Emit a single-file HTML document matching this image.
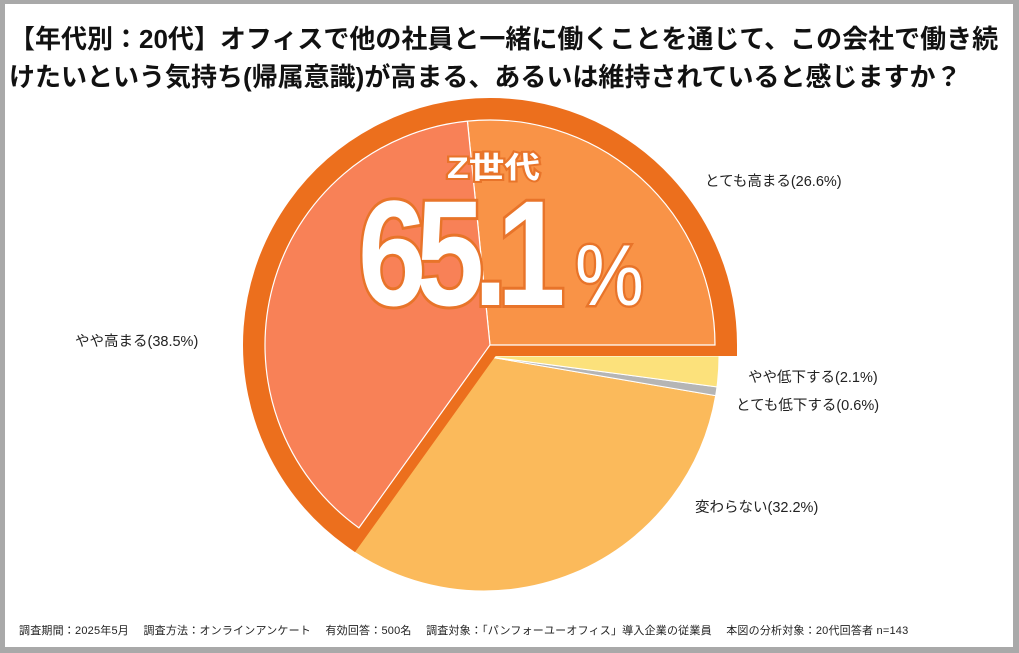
<!DOCTYPE html>
<html><head><meta charset="utf-8">
<style>
html,body{margin:0;padding:0;}
body{width:1019px;height:653px;overflow:hidden;background:#a9a9a9;font-family:"Liberation Sans","Noto Sans CJK JP",sans-serif;}
#frame{position:absolute;left:5px;top:4px;width:1008px;height:643px;background:#fff;}
.title{position:absolute;left:9px;font-weight:bold;font-size:26px;color:#111;white-space:nowrap;letter-spacing:0px;}
.foot{position:absolute;left:19px;top:622px;font-size:11px;color:#222;white-space:nowrap;letter-spacing:0.2px;}
svg{position:absolute;left:0;top:0;}
</style></head><body>
<div id="frame"></div>
<div class="title" style="top:19px">【年代別：20代】オフィスで他の社員と一緒に働くことを通じて、この会社で働き続</div>
<div class="title" style="top:57px">けたいという気持ち(帰属意識)が高まる、あるいは維持されていると感じますか？</div>
<svg id="chart" width="1019" height="653"></svg>
<div class="foot">調査期間：2025年5月　 調査方法：オンラインアンケート　 有効回答：500名　 調査対象：「パンフォーユーオフィス」導入企業の従業員　 本図の分析対象：20代回答者 n=143</div>
<script>
const categories = ["とても高まる","やや高まる","変わらない","とても低下する","やや低下する"];
const values = [26.6, 38.5, 32.2, 0.6, 2.1];
const highlighted = [true, true, false, false, false];
const colors = ["#F99347","#F88157","#FBBA5B","#B5B5B5","#FCE17B"];
const labelPos = [[705,186],[75,346],[695,512],[736,410],[748,382]];
const NS="http://www.w3.org/2000/svg";
const svg=document.getElementById('chart');
const total=values.reduce((a,b)=>a+b,0);
function pt(cx,cy,r,a){return [cx+r*Math.cos(a), cy-r*Math.sin(a)];}
function wedge(cx,cy,r,a0,a1){
  const p0=pt(cx,cy,r,a0),p1=pt(cx,cy,r,a1);
  const large=(a1-a0)>Math.PI?1:0;
  return `M${cx},${cy} L${p0[0]},${p0[1]} A${r},${r} 0 ${large} 0 ${p1[0]},${p1[1]} Z`;
}
function mk(tag,attrs){const e=document.createElementNS(NS,tag);for(const k in attrs)e.setAttribute(k,attrs[k]);svg.appendChild(e);return e;}
const angles=[];let acc=0;
values.forEach(v=>{const a0=acc/total*2*Math.PI;acc+=v;angles.push([a0,acc/total*2*Math.PI]);});
const CX=484,CY=356,R=235;
values.forEach((v,i)=>{ if(highlighted[i])return;
  const p=mk('path',{d:wedge(CX,CY,R,angles[i][0],angles[i][1]),fill:colors[i],stroke:'#fff','stroke-width':1});
  
  
});
const HX=490,HY=345,HR=225;
let h0=Infinity,h1=-Infinity;
values.forEach((v,i)=>{if(highlighted[i]){h0=Math.min(h0,angles[i][0]);h1=Math.max(h1,angles[i][1]);}});
const band=mk('path',{d:wedge(HX,HY,HR+11,h0,h1),fill:'#EC6F1D',stroke:'#EC6F1D','stroke-width':22,'stroke-linejoin':'miter'});


values.forEach((v,i)=>{ if(!highlighted[i])return;
  const p=mk('path',{d:wedge(HX,HY,HR,angles[i][0],angles[i][1]),fill:colors[i],stroke:'#fff','stroke-width':1.2});
  
  
});
values.forEach((v,i)=>{
  const t=mk('text',{x:labelPos[i][0],y:labelPos[i][1],'font-size':14.5,fill:'#222'});
  t.textContent=categories[i]+'('+v.toFixed(1)+'%)';
  
  
});
const hsum=values.filter((v,i)=>highlighted[i]).reduce((a,b)=>a+b,0);
const z=mk('text',{x:447,y:178,'font-size':30,'font-weight':'bold',fill:'#fff',stroke:'#E8742A','stroke-width':4,'paint-order':'stroke',textLength:93,lengthAdjust:'spacingAndGlyphs'});
z.textContent='Z世代';


const big=mk('text',{x:0,y:0,'font-size':150,'font-weight':'bold',fill:'#fff',stroke:'#E8742A','stroke-width':6,'paint-order':'stroke','letter-spacing':-13,transform:'translate(358,305) scale(0.82,1)'});
big.textContent=hsum.toFixed(1);


const pc=mk('text',{x:0,y:0,'font-size':86,fill:'#fff',stroke:'#E8742A','stroke-width':5,'paint-order':'stroke',transform:'translate(575,305) scale(0.9,1)'});
pc.textContent='%';


</script>
</body></html>
